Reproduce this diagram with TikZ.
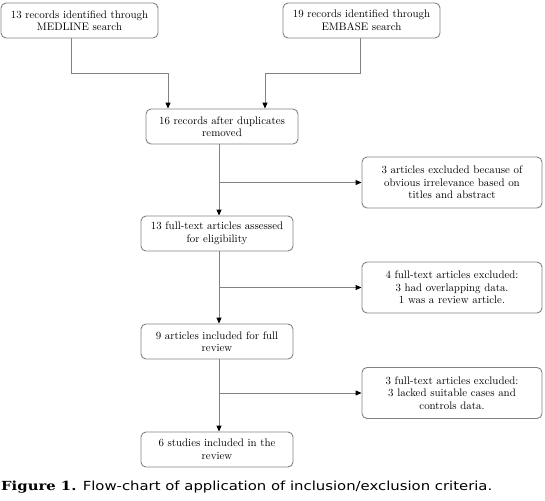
\documentclass[tikz,border=0pt]{standalone}
\usepackage{fontspec}
\newfontfamily\capfont{DejaVu Sans}
\newfontfamily\capbold{DejaVu Serif}
\usetikzlibrary{arrows.meta,calc}
\definecolor{linegray}{RGB}{130,130,130}
\tikzset{
  box/.style={draw=linegray, line width=0.9pt, rounded corners=5pt, align=center,
    inner sep=0pt, font=\fontsize{10.9}{12.5}\selectfont},
  mainbox/.style={box, minimum width=152pt, minimum height=35pt},
  srcbox/.style={box, minimum width=157pt, minimum height=35pt},
  exbox/.style={box, minimum width=180pt, minimum height=51pt},
  conn/.style={draw=linegray, line width=0.9pt,
    -{Triangle[length=6pt,width=5pt,color=black]}},
}
\begin{document}
\begin{tikzpicture}[x=1pt,y=-1pt]
\useasboundingbox (0,0) rectangle (545,500);
\node[srcbox] (med) at (79.5,20.5) {13 records identified through\\MEDLINE search};
\node[srcbox] (emb) at (361.5,20.5) {19 records identified through\\EMBASE search};
\node[mainbox] (dup) at (222,126.5) {16 records after duplicates\\removed};
\node[mainbox] (full) at (217,233.5) {13 full-text articles assessed\\for eligibility};
\node[mainbox] (nine) at (217,341.5) {9 articles included for full\\review};
\node[mainbox] (six) at (217,449.5) {6 studies included in the\\review};
\node[exbox] (ex1) at (452,182.5) {3 articles excluded because of\\obvious irrelevance based on\\titles and abstract};
\node[exbox] (ex2) at (452,287.5) {4 full-text articles excluded:\\3 had overlapping data.\\1 was a review article.};
\node[exbox] (ex3) at (452,393) {3 full-text articles excluded:\\3 lacked suitable cases and\\controls data.};
\coordinate (m1) at (71,73);
\coordinate (e1) at (360,73);
\draw[conn] (med.south -| m1) -- (m1) -| (dup.north -| 168,0);
\draw[conn] (emb.south -| e1) -- (e1) -| (dup.north -| 265,0);
\coordinate (v) at (219,0);
\draw[conn] (dup.south -| v) -- (full.north -| v);
\draw[conn] (ex1.west -| v) -- (ex1.west);
\draw[conn] (full.south -| v) -- (nine.north -| v);
\draw[conn] (ex2.west -| v) -- (ex2.west);
\draw[conn] (nine.south -| v) -- (six.north -| v);
\draw[conn] (ex3.west -| v) -- (ex3.west);
\node[anchor=base west, inner sep=0pt, font=\capfont\fontsize{12.5}{14}\selectfont] (cap) at (1,490)
  {\resizebox{491pt}{\height}{{\capbold\bfseries Figure 1.} Flow-chart of application of inclusion/exclusion criteria.}};
\end{tikzpicture}
\end{document}
